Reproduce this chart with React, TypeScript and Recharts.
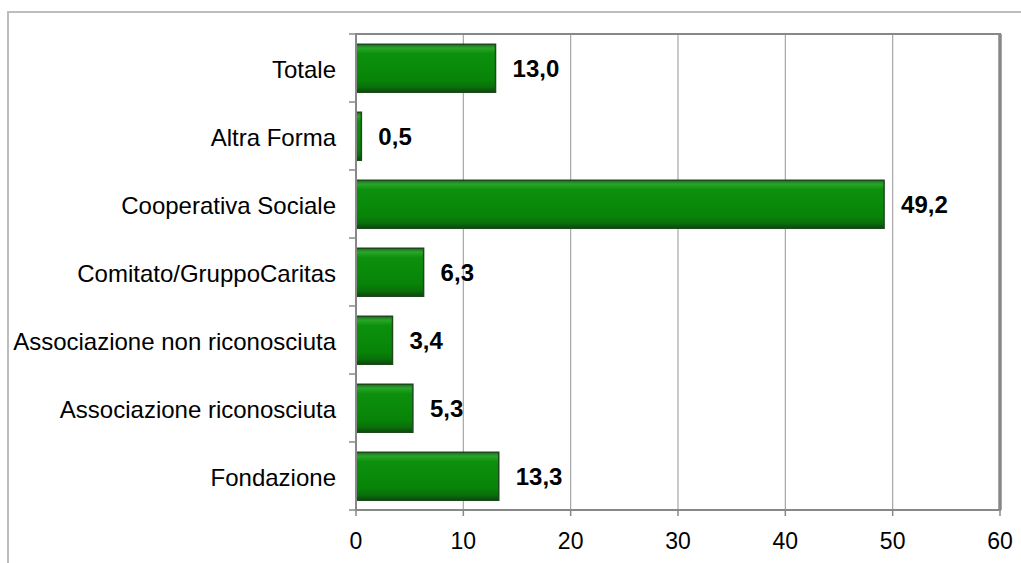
import React from "react";
import {
  BarChart,
  Bar,
  XAxis,
  YAxis,
  CartesianGrid,
  LabelList,
  ReferenceArea,
  ReferenceLine
} from "recharts";

const categories = [
  "Totale",
  "Altra Forma",
  "Cooperativa Sociale",
  "Comitato/GruppoCaritas",
  "Associazione non riconosciuta",
  "Associazione riconosciuta",
  "Fondazione"
];
const values = [13.0, 0.5, 49.2, 6.3, 3.4, 5.3, 13.3];
const xTicks = [0, 10, 20, 30, 40, 50, 60];

const data = categories.map((name, i) => ({ name, value: values[i] }));

const FONT = '"Liberation Sans", Arial, sans-serif';

const fmt = (v: number) => v.toFixed(1).replace(".", ",");

function CategoryTick(props: any) {
  const { x, y, payload, index, visibleTicksCount } = props;
  const half = payload && payload.offset ? payload.offset : 34;
  const axisX = x + 20;
  return (
    <g>
      <line x1={axisX - 7} x2={axisX} y1={y - half} y2={y - half} stroke="#888" strokeWidth={1.5} />
      {index === visibleTicksCount - 1 && (
        <line x1={axisX - 7} x2={axisX} y1={y + half} y2={y + half} stroke="#888" strokeWidth={1.5} />
      )}
      <text
        x={x}
        y={y + 1}
        textAnchor="end"
        dominantBaseline="central"
        fontFamily={FONT}
        fontSize={24}
        fill="#000"
      >
        {payload.value}
      </text>
    </g>
  );
}

export default function App() {
  return (
    <div style={{ position: "absolute", left: 0, top: 0, width: 1021, height: 563, background: "#fff" }}>
      <div
        style={{
          position: "absolute",
          left: 7,
          top: 11,
          width: 1030,
          height: 570,
          borderLeft: "2px solid #bdbdbd",
          borderTop: "2px solid #bdbdbd"
        }}
      />
      <BarChart
        width={1021}
        height={563}
        data={data}
        layout="vertical"
        margin={{ top: 34, right: 21, bottom: 0, left: 0 }}
        barCategoryGap="15%"
        style={{ position: "absolute", left: 0, top: 0 }}
      >
        <defs>
          <linearGradient id="barGreen" x1="0" y1="0" x2="0" y2="1">
            <stop offset="0" stopColor="#1b6b1b" />
            <stop offset="0.08" stopColor="#2aa52a" />
            <stop offset="0.2" stopColor="#0c900c" />
            <stop offset="0.75" stopColor="#088408" />
            <stop offset="0.9" stopColor="#0a6e0a" />
            <stop offset="1" stopColor="#0b460b" />
          </linearGradient>
        </defs>
        <CartesianGrid horizontal={false} stroke="#a6a6a6" strokeWidth={1.2} />
        <ReferenceArea x1={0} x2={60} fill="none" stroke="#888" strokeWidth={2} ifOverflow="visible" />
        <ReferenceLine x={60} stroke="#888" strokeWidth={3.5} />
        <XAxis
          type="number"
          domain={[0, 60]}
          ticks={xTicks}
          height={53}
          axisLine={{ stroke: "#888", strokeWidth: 2 }}
          tickLine={{ stroke: "#888", strokeWidth: 1.5 }}
          tickSize={6}
          tickMargin={17}
          tick={{ fill: "#000", fontSize: 23, fontFamily: FONT }}
          interval={0}
        />
        <YAxis
          type="category"
          dataKey="name"
          width={356}
          axisLine={{ stroke: "#888", strokeWidth: 2 }}
          tickLine={false}
          tickSize={0}
          tickMargin={20}
          tick={<CategoryTick />}
          interval={0}
        />
        <Bar
          dataKey="value"
          fill="url(#barGreen)"
          stroke="#1d4a1d"
          strokeWidth={1.5}
          isAnimationActive={false}
        >
          <LabelList
            dataKey="value"
            position="right"
            offset={17}
            formatter={(v: any) => fmt(Number(v))}
            style={{ fill: "#000", fontSize: 24, fontWeight: "bold", fontFamily: FONT }}
          />
        </Bar>
      </BarChart>
    </div>
  );
}
